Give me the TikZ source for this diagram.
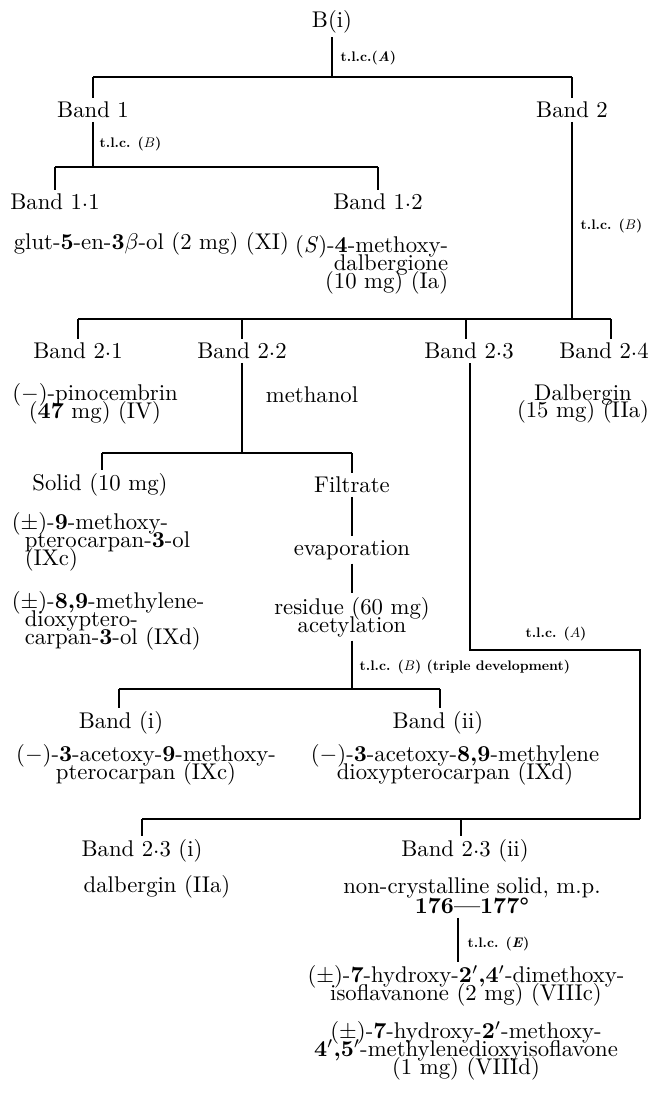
\documentclass[tikz,border=0pt]{standalone}
\usepackage{fontspec}
\newcommand\tightlines{\fontsize{10}{7.8}\selectfont\lineskiplimit-20pt\relax\lineskip0pt\relax}
\newcommand\cdt{\raisebox{1.6pt}{.}}
\begin{document}
\begin{tikzpicture}[x=0.44pt, y=-0.44pt,
    compound/.style ={inner sep=1.5pt, align=center, font=\tightlines},
    tlc/.style ={anchor=west, inner sep=1pt, scale=0.61, font=\bfseries},
    link/.style ={line width=0.5pt}]
   \useasboundingbox (0,0) rectangle (652,1097);
   % first t.l.c.
   \node[compound] (Bi) at (332,22) {B(i)};
   \node[compound] (band1) at (93,110) {Band 1};
   \node[compound] (band2) at (572,110) {Band 2};
   \coordinate (bar1a) at (93,77);
   \coordinate (bar1b) at (572,77);
   \draw[link] (Bi) to (Bi |- bar1a);
   \draw[link] (bar1a) to (bar1b);
   \draw[link] (bar1a) to (band1);
   \draw[link] (bar1b) to (band2);
   \node[tlc] (tlcA) at (339,58) {t.l.c.(\textit{A})};
   % band 1
   \node[compound] (band11) at (55,202) {Band 1\cdt1};
   \node[compound] (band12) at (378,202) {Band 1\cdt2};
   \coordinate (bar2a) at (55,167);
   \coordinate (bar2b) at (378,167);
   \draw[link] (band1) to (band1 |- bar2a);
   \draw[link] (bar2a) to (bar2b);
   \draw[link] (bar2a) to (band11);
   \draw[link] (bar2b) to (band12);
   \node[tlc] (tlcB) at (98,144) {t.l.c. ($B$)};
   \node[compound, anchor=west] (glut) at (10,244) {glut-\textbf{5}-en-\textbf{3}$\beta$-ol (2 mg) (XI)};
   \node[compound, align=right, anchor=east] (dalbone) at (452,265)
      {(\textit{S})-\textbf{4}-methoxy-\\dalbergione\\(10 mg) (Ia)};
   % band 2
   \node[compound] (band21) at (78,351) {Band 2\cdt1};
   \node[compound] (band22) at (242,351) {Band 2\cdt2};
   \node[compound] (band23) at (469,351) {Band 2\cdt3};
   \node[compound] (band24) at (604,351) {Band 2\cdt4};
   \coordinate (bar3a) at (78,319);
   \coordinate (bar3b) at (611,319);
   \coordinate (bar3c) at (242,319);
   \coordinate (bar3d) at (466,319);
   \draw[link] (band2) to (band2 |- bar3a);
   \draw[link] (bar3a) to (bar3b);
   \draw[link] (bar3a) to (band21);
   \draw[link] (bar3c) to (band22);
   \draw[link] (bar3d) to (bar3d |- band23.north);
   \draw[link] (bar3b) to (bar3b |- band24.north);
   \node[tlc] (tlcB2) at (579,226) {t.l.c. ($B$)};
   \node[compound] (pino) at (95,404) {($-$)-pinocembrin\\(\textbf{47} mg) (IV)};
   \node[compound] (methanol) at (312,395) {methanol};
   \node[compound] (dalbergin) at (583,404) {Dalbergin\\(15 mg) (IIa)};
   % band 2.2
   \node[compound] (solid) at (100,485) {Solid (10 mg)};
   \node[compound] (filtrate) at (352,485) {Filtrate};
   \node[compound] (evap) at (352,550) {evaporation};
   \node[compound] (residue) at (352,617) {residue (60 mg)\\acetylation};
   \coordinate (bar4a) at (102,453);
   \coordinate (bar4b) at (352,453);
   \draw[link] (band22) to (band22 |- bar4a);
   \draw[link] (bar4a) to (bar4b);
   \draw[link] (bar4a) to (bar4a |- solid.north);
   \draw[link] (bar4b) to (filtrate);
   \draw[link] (filtrate) to (evap);
   \draw[link] (evap) to (residue);
   \node[compound, align=left, anchor=west] (ixc) at (8,542)
      {($\pm$)-\textbf{9}-methoxy-\\\hspace*{5.7pt}pterocarpan-\textbf{3}-ol\\\hspace*{5.7pt}(IXc)};
   \node[compound, align=left, anchor=west] (ixd) at (8,621)
      {($\pm$)-\textbf{8,9}-methylene-\\\hspace*{5.7pt}dioxyptero-\\\hspace*{5.7pt}carpan-\textbf{3}-ol (IXd)};
   % acetylation
   \node[compound] (bandi) at (121,723) {Band (i)};
   \node[compound] (bandii) at (438,723) {Band (ii)};
   \coordinate (bar5a) at (119,689);
   \coordinate (bar5b) at (440,689);
   \draw[link] (residue) to (residue |- bar5a);
   \draw[link] (bar5a) to (bar5b);
   \draw[link] (bar5a) to (bar5a |- bandi.north);
   \draw[link] (bar5b) to (bar5b |- bandii.north);
   \node[tlc] (tlcB3) at (358,667) {t.l.c. ($B$) (triple development)};
   \node[compound] (acetc) at (146,765)
      {($-$)-\textbf{3}-acetoxy-\textbf{9}-methoxy-\\pterocarpan (IXc)};
   \node[compound] (acetd) at (455,765)
      {($-$)-\textbf{3}-acetoxy-\textbf{8,9}-methylene\\dioxypterocarpan (IXd)};
   % band 2.3
   \node[compound] (band23i) at (142,851) {Band 2\cdt3 (i)};
   \node[compound] (band23ii) at (465,851) {Band 2\cdt3 (ii)};
   \coordinate (kneeA) at (470,650);
   \coordinate (kneeB) at (640,650);
   \coordinate (bar6a) at (142,819);
   \coordinate (bar6b) at (640,819);
   \coordinate (bar6c) at (461,819);
   \draw[link] (band23.south -| kneeA) to (kneeA) to (kneeB) to (bar6b);
   \draw[link] (bar6a) to (bar6b);
   \draw[link] (bar6a) to (bar6a |- band23i.north);
   \draw[link] (bar6c) to (bar6c |- band23ii.north);
   \node[tlc, anchor=center] (tlcA2) at (556,634) {t.l.c. ($A$)};
   \node[compound] (dalb) at (157,887) {dalbergin (IIa)};
   \node[compound] (ncs) at (472,896) {non-crystalline solid, m.p.\\[1pt]\textbf{176---177°}};
   \node[compound] (viiic) at (466,986)
      {($\pm$)-\textbf{7}-hydroxy-\textbf{2$'$,4$'$}-dimethoxy-\\isoflavanone (2 mg) (VIIIc)};
   \node[compound] (viiid) at (466,1051)
      {($\pm$)-\textbf{7}-hydroxy-\textbf{2$'$}-methoxy-\\\textbf{4$'$,5$'$}-methylenedioxyisoflavone\\(1 mg) (VIIId)};
   \coordinate (stemE) at (458,940);
   \draw[link] (ncs.south -| stemE) to (stemE |- viiic.north);
   \node[tlc] (tlcE) at (466,944) {t.l.c. (\textit{E})};
\end{tikzpicture}
\end{document}
